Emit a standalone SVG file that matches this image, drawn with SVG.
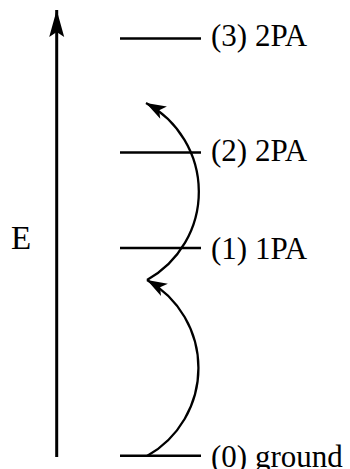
<svg xmlns="http://www.w3.org/2000/svg" width="350" height="469" viewBox="0 0 350 469">
<style>
.lvl{stroke:#000;stroke-width:2.4;fill:none}
.lbl{font-family:"Liberation Serif","Times New Roman",serif;font-size:31px;fill:#000}
.arc{stroke:#000;stroke-width:2.3;fill:none}
</style>
<defs>
<marker id="headSmall" markerUnits="userSpaceOnUse" markerWidth="26" markerHeight="18" viewBox="-22 -9 26 18" refX="0" refY="0" orient="auto">
<path d="M0,0 L-20,-7 L-15,0 L-20,7 Z" fill="#000"/>
</marker>
<marker id="headAxis" markerUnits="userSpaceOnUse" markerWidth="32" markerHeight="18" viewBox="-30 -9 32 18" refX="0" refY="0" orient="auto">
<path d="M0,0 L-27,-7.5 L-22,0 L-27,7.5 Z" fill="#000"/>
</marker>
</defs>
<g id="connectors">
<line x1="56.7" y1="457" x2="56.7" y2="10" stroke="#000" stroke-width="3" marker-end="url(#headAxis)"/>
<path class="arc" d="M147,456 A101,101 0 0 0 147,280" marker-end="url(#headSmall)"/>
<path class="arc" d="M147,280 A101,101 0 0 0 146,103" marker-end="url(#headSmall)"/>
</g>
<g id="axis-label"><text class="lbl" x="11" y="249" style="font-size:33px">E</text></g>
<g id="level3"><line class="lvl" x1="120" y1="38.5" x2="201" y2="38.5"/><text class="lbl" x="211" y="46">(3) 2PA</text></g>
<g id="level2"><line class="lvl" x1="120" y1="152.5" x2="201" y2="152.5"/><text class="lbl" x="211" y="161">(2) 2PA</text></g>
<g id="level1"><line class="lvl" x1="120" y1="248" x2="201" y2="248"/><text class="lbl" x="211" y="259">(1) 1PA</text></g>
<g id="level0"><line class="lvl" x1="120" y1="455.7" x2="201" y2="455.7"/><text class="lbl" x="211" y="467">(0) ground</text></g>
</svg>
